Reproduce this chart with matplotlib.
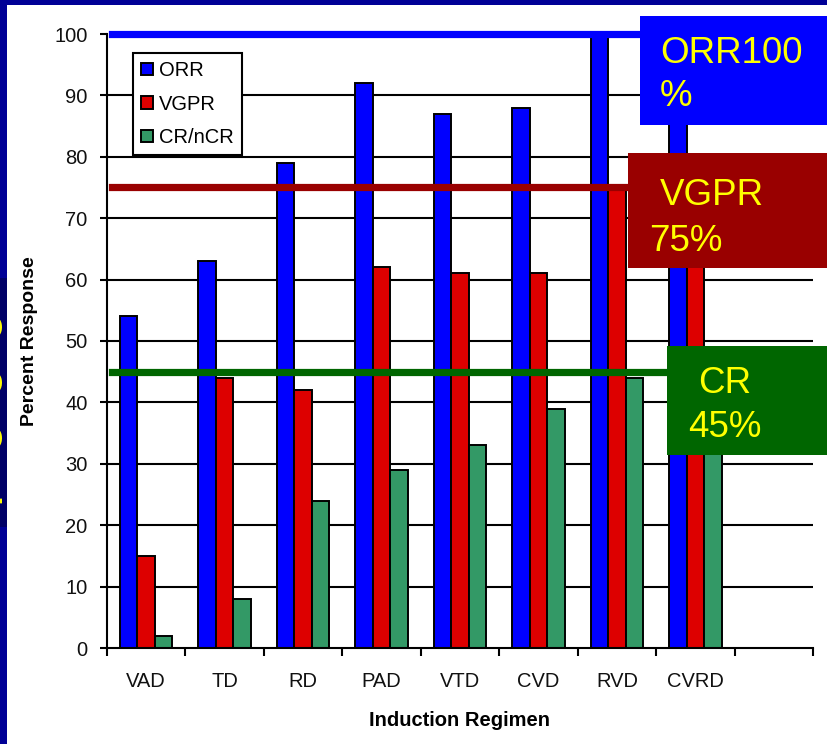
import matplotlib
matplotlib.use("Agg")
import matplotlib.pyplot as plt
from matplotlib.patches import Rectangle

plt.rcParams['font.family'] = ['Liberation Sans', 'DejaVu Sans']

# response rates (%) by induction regimen
regimens = ["VAD", "TD", "RD", "PAD", "VTD", "CVD", "RVD", "CVRD", ""]
orr = [54, 63, 79, 92, 87, 88, 100, 88]
vgpr = [15, 44, 42, 62, 61, 61, 75, 70]
cr_ncr = [2, 8, 24, 29, 33, 39, 44, 40]

# benchmark levels called out on the right
targets = [("ORR", 100), ("VGPR", 75), ("CR", 45)]

W, H = 828, 744
NAVY = "#000096"
YELLOW = "#FFFF00"

fig = plt.figure(figsize=(W / 100, H / 100), dpi=100, facecolor=NAVY)

# slide backdrop: white panel, dark strip with clipped slide text on the left
fig.add_artist(Rectangle((0, 1 - 527 / H), 7 / W, 249 / H, transform=fig.transFigure,
                         facecolor="#000066", edgecolor="none", zorder=-15))
fig.text(13 / W, 1 - 410 / H, ".   e  e  e", rotation=90, ha="right", va="center",
         color=YELLOW, fontsize=36, zorder=-12)
fig.add_artist(Rectangle((7 / W, 0), 1, 1 - 5 / H, transform=fig.transFigure,
                         facecolor="white", edgecolor="none", zorder=-10))

ax = fig.add_axes([107 / W, 96 / H, 706 / W, 614 / H])
ax.set_facecolor("white")

n = len(orr)
bw = 0.223
xs = list(range(n))
ax.hlines(range(10, 100, 10), -0.5, len(regimens) - 0.5, color="black", lw=1.5, zorder=1)

ax.bar([x - bw for x in xs], orr, bw, color="#0000FF", edgecolor="black", lw=1.4, zorder=2, label="ORR")
ax.bar(xs, vgpr, bw, color="#DD0000", edgecolor="black", lw=1.4, zorder=2, label="VGPR")
ax.bar([x + bw for x in xs], cr_ncr, bw, color="#339966", edgecolor="black", lw=1.4, zorder=2, label="CR/nCR")

ax.set_xlim(-0.5, len(regimens) - 0.5)
ax.set_ylim(0, 100)
ax.set_yticks(range(0, 101, 10))
ax.set_xticks(range(len(regimens)))
ax.set_xticklabels(regimens)
ax.set_xticks([i - 0.5 for i in range(len(regimens) + 1)], minor=True)
ax.tick_params(axis="x", which="major", length=0, pad=17, labelsize=14.5, labelcolor="#111111")
ax.tick_params(axis="x", which="minor", length=6, width=1.5, direction="out")
ax.tick_params(axis="y", length=5, width=1.5, direction="out", pad=9, labelsize=14.5, labelcolor="#111111")
for s in ("top", "right"):
    ax.spines[s].set_visible(False)
for s in ("left", "bottom"):
    ax.spines[s].set_linewidth(1.5)

ax.set_ylabel("Percent Response", fontsize=14, fontweight="bold", labelpad=12)
ax.set_xlabel("Induction Regimen", fontsize=14.5, fontweight="bold", labelpad=15)

leg = ax.legend(loc="upper left", bbox_to_anchor=(26 / 706, 1 - 19 / 614), fancybox=False,
                edgecolor="black", framealpha=1, fontsize=14.5, handlelength=0.6,
                handleheight=0.6, handletextpad=0.3, labelspacing=0.72, borderpad=0.4,
                borderaxespad=0)
leg.get_frame().set_linewidth(1.5)
leg.set_zorder(4)

# benchmark lines and their callout boxes
line_colors = ["#0000FF", "#990000", "#006600"]
for (name, val), col in zip(targets, line_colors):
    ax.axhline(val, xmin=5 / 706, xmax=1, color=col, lw=5.2, zorder=3, clip_on=False)

boxes = [(640, 16, 125), (628, 153, 268), (667, 346, 455)]
for (x0, y0, y1), col in zip(boxes, line_colors):
    fig.add_artist(Rectangle((x0 / W, 1 - y1 / H), 1 - x0 / W, (y1 - y0) / H,
                             transform=fig.transFigure, facecolor=col, edgecolor="none", zorder=5))

box_text = [
    ("ORR100", 660, 63), ("%", 660, 106),
    ("VGPR", 660, 205), ("75%", 649, 251),
    ("CR", 698, 393), ("45%", 688, 437),
]
for txt, x, y in box_text:
    fig.text(x / W, 1 - y / H, txt, color=YELLOW, fontsize=26.5, ha="left", va="baseline", zorder=6)

fig.savefig("out.png", dpi=100, facecolor=fig.get_facecolor())
